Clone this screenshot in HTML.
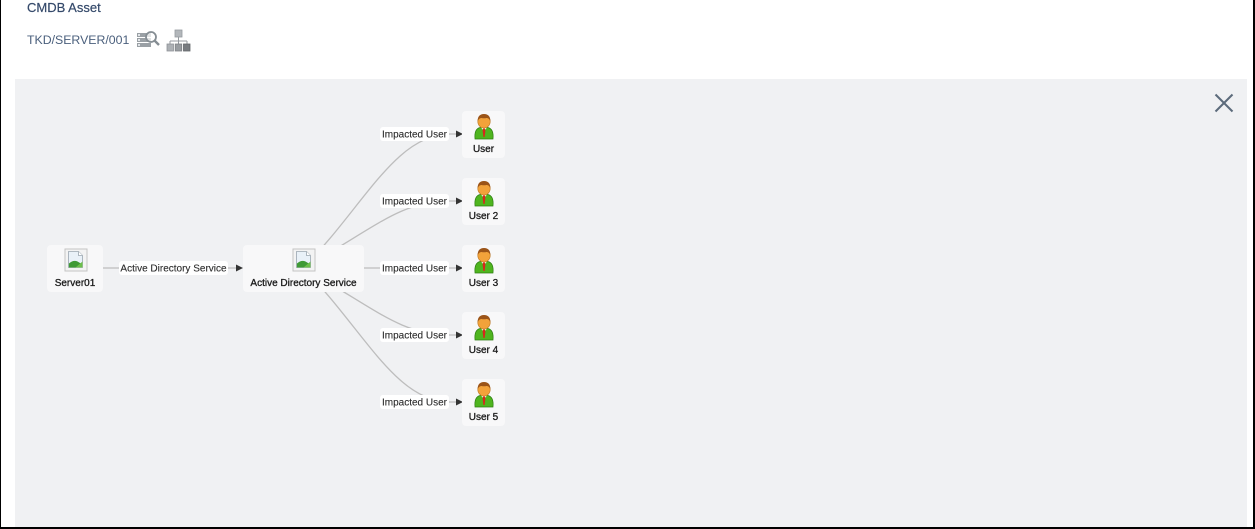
<!DOCTYPE html>
<html>
<head>
<meta charset="utf-8">
<style>
  html, body { margin:0; padding:0; }
  body { width:1255px; height:529px; position:relative; background:#fff; overflow:hidden; font-family:"Liberation Sans", Arial, sans-serif; }
  .bl { position:absolute; left:0; top:0; width:1px; height:529px; background:#000; }
  .br { position:absolute; left:1253px; top:0; width:2px; height:529px; background:#000; }
  .bb { position:absolute; left:0; top:527px; width:1255px; height:2px; background:#000; }
  .title { position:absolute; left:27px; top:0px; font-size:13px; color:#34496a; -webkit-text-stroke:0.2px #34496a; }
  .sub { position:absolute; left:27px; top:33px; font-size:12.3px; color:#4a5f7c; }
  .panel { position:absolute; left:15px; top:79px; width:1232px; height:448px; background:#f0f1f3; }
</style>
</head>
<body>
<div class="title">CMDB Asset</div>
<div class="sub">TKD/SERVER/001</div>

<!-- header icons -->
<svg style="position:absolute;left:136px;top:28px" width="60" height="26" viewBox="0 0 60 26">
  <rect x="1" y="5" width="14" height="4" fill="#9aa0a5"/>
  <rect x="1" y="10" width="14" height="4" fill="#9aa0a5"/>
  <rect x="1" y="15" width="14" height="4" fill="#9aa0a5"/>
  <rect x="2" y="6" width="2" height="2" fill="#e3e6e9"/>
  <rect x="2" y="11" width="2" height="2" fill="#e3e6e9"/>
  <rect x="2" y="16" width="2" height="2" fill="#e3e6e9"/>
  <circle cx="15" cy="9" r="5" fill="#fff" fill-opacity="0.7" stroke="#858d93" stroke-width="1.8"/>
  <line x1="18.5" y1="12.5" x2="23" y2="17" stroke="#858d93" stroke-width="2.4"/>
  <!-- hierarchy -->
  <rect x="39" y="2" width="7" height="7" fill="#b3b7bb" stroke="#959a9f" stroke-width="0.8"/>
  <line x1="42.5" y1="9" x2="42.5" y2="13" stroke="#959a9f" stroke-width="1"/>
  <line x1="34" y1="13" x2="51" y2="13" stroke="#959a9f" stroke-width="1"/>
  <line x1="34" y1="13" x2="34" y2="16" stroke="#959a9f" stroke-width="1"/>
  <line x1="42.5" y1="13" x2="42.5" y2="16" stroke="#959a9f" stroke-width="1"/>
  <line x1="51" y1="13" x2="51" y2="16" stroke="#959a9f" stroke-width="1"/>
  <rect x="31" y="16" width="6.5" height="7" fill="#adb1b5" stroke="#8f9398" stroke-width="0.8"/>
  <rect x="39.2" y="16" width="6.5" height="7" fill="#999da1" stroke="#7f8387" stroke-width="0.8"/>
  <rect x="47.5" y="16" width="6.5" height="7" fill="#787c80" stroke="#63666a" stroke-width="0.8"/>
</svg>

<div class="panel"></div>

<svg style="position:absolute;left:0;top:0" width="1255" height="529" viewBox="0 0 1255 529" font-family="Liberation Sans, Arial, sans-serif">
  <defs>
    <g id="broken">
      <rect x="0.5" y="0.5" width="22" height="22" fill="#f3f3f3" stroke="#c4c4c4" stroke-width="1"/>
      <path d="M4 3 H14 L18 7 V19 H4 Z" fill="#e9f1f8" stroke="#9aa6b0" stroke-width="0.8"/>
      <path d="M14 3 V7 H18" fill="#fff" stroke="#9aa6b0" stroke-width="0.8"/>
      <path d="M4.4 19 L4.4 15 Q9 11 13 13 L18 16 V19 Z" fill="#3f9a35"/>
      <path d="M11 19 L18 13 V19 Z" fill="#6cbf4a"/>
    </g>
    <g id="user">
      <path d="M1 27 Q0 17 6 15.5 L14 15.5 Q20 17 19 27 Z" fill="#4fb51f" stroke="#2e7d12" stroke-width="0.7"/>
      <path d="M7 15.5 L10 19 L13 15.5 Z" fill="#ffffff"/>
      <path d="M9.2 16.5 H10.8 L11.4 18.5 L10.6 25 H9.4 L8.6 18.5 Z" fill="#d8261c"/>
      <ellipse cx="10" cy="9.5" rx="6.2" ry="6.6" fill="#f2a23a" stroke="#b8731c" stroke-width="0.6"/>
      <path d="M3.7 9 Q3.5 2.2 10 2 Q16.5 2.2 16.3 9 Q15 5.8 12.5 6 Q10 6.5 7.5 6 Q5 6 3.7 9 Z" fill="#9b5418"/>
    </g>
  </defs>

  <!-- edges -->
  <g fill="none" stroke="#bdbdbd" stroke-width="1.3">
    <line x1="103" y1="268" x2="237" y2="268"/>
    <path d="M303 268 C363 208 395 134 450 134 L457 134"/>
    <path d="M303 268 C375 228 400 201 450 201 L457 201"/>
    <path d="M303 268 L457 268"/>
    <path d="M303 268 C375 308 400 335 450 335 L457 335"/>
    <path d="M303 268 C363 328 395 402 450 402 L457 402"/>
  </g>
  <g fill="#333">
    <path d="M236 264.5 L243 268 L236 271.5 Z"/>
    <path d="M456 130.5 L463 134 L456 137.5 Z"/>
    <path d="M456 197.5 L463 201 L456 204.5 Z"/>
    <path d="M456 264.5 L463 268 L456 271.5 Z"/>
    <path d="M456 331.5 L463 335 L456 338.5 Z"/>
    <path d="M456 398.5 L463 402 L456 405.5 Z"/>
  </g>

  <!-- edge labels -->
  <g fill="#fff">
    <rect x="119" y="261" width="109" height="14" rx="3"/>
    <rect x="380" y="127" width="69" height="14" rx="3"/>
    <rect x="380" y="194" width="69" height="14" rx="3"/>
    <rect x="380" y="261" width="69" height="14" rx="3"/>
    <rect x="380" y="328" width="69" height="14" rx="3"/>
    <rect x="380" y="395" width="69" height="14" rx="3"/>
  </g>
  <g fill="#2a2a2a" font-size="10" text-anchor="middle" stroke="#2a2a2a" stroke-width="0.1">
    <text x="173.5" y="271.6">Active Directory Service</text>
    <text x="414.5" y="137.6">Impacted User</text>
    <text x="414.5" y="204.6">Impacted User</text>
    <text x="414.5" y="271.6">Impacted User</text>
    <text x="414.5" y="338.6">Impacted User</text>
    <text x="414.5" y="405.6">Impacted User</text>
  </g>

  <!-- nodes -->
  <g fill="#f8f8f9">
    <rect x="47" y="245" width="56" height="47" rx="4"/>
    <rect x="243" y="245" width="121" height="47" rx="4"/>
    <rect x="462" y="111" width="43" height="47" rx="4"/>
    <rect x="462" y="178" width="43" height="47" rx="4"/>
    <rect x="462" y="245" width="43" height="47" rx="4"/>
    <rect x="462" y="312" width="43" height="47" rx="4"/>
    <rect x="462" y="379" width="43" height="47" rx="4"/>
  </g>
  <use href="#broken" x="64.5" y="248.5"/>
  <use href="#broken" x="292.5" y="248.5"/>
  <use href="#user" x="474" y="112"/>
  <use href="#user" x="474" y="179"/>
  <use href="#user" x="474" y="246"/>
  <use href="#user" x="474" y="313"/>
  <use href="#user" x="474" y="380"/>

  <g fill="#1a1a1a" font-size="10" text-anchor="middle" stroke="#1a1a1a" stroke-width="0.3">
    <text x="75" y="286">Server01</text>
    <text x="303.5" y="286">Active Directory Service</text>
    <text x="483.5" y="152">User</text>
    <text x="483.5" y="219">User 2</text>
    <text x="483.5" y="286">User 3</text>
    <text x="483.5" y="353">User 4</text>
    <text x="483.5" y="420">User 5</text>
  </g>

  <!-- close -->
  <g stroke="#5c6b7b" stroke-width="2" stroke-linecap="butt">
    <line x1="1215.5" y1="94.5" x2="1232.5" y2="111.5"/>
    <line x1="1232.5" y1="94.5" x2="1215.5" y2="111.5"/>
  </g>
</svg>

<div class="bl"></div>
<div class="br"></div>
<div class="bb"></div>
</body>
</html>
